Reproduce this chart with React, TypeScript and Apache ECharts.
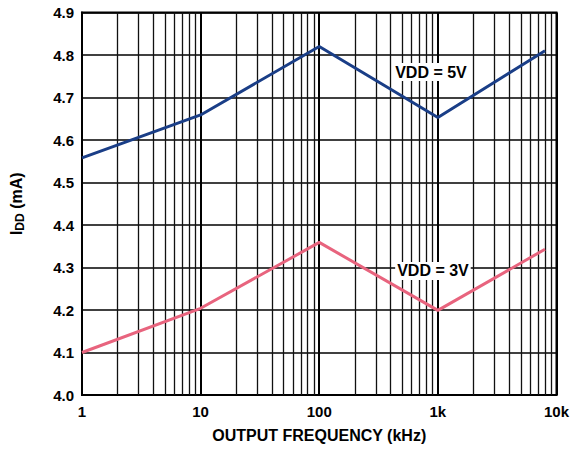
import React, { useEffect, useRef } from "react";
import * as echarts from "echarts";

const freqs = [1, 10, 100, 1000, 8000];
const vdd5 = [4.558, 4.659, 4.82, 4.653, 4.81];
const vdd3 = [4.1, 4.204, 4.359, 4.199, 4.343];
const minorFreqs = [
  2, 3, 4, 5, 6, 7, 8, 9,
  20, 30, 40, 50, 60, 70, 80, 90,
  200, 300, 400, 500, 600, 700, 800, 900,
  2000, 3000, 4000, 5000, 6000, 7000, 8000, 9000,
];
const label5 = { text: "VDD = 5V", x: 875, y: 4.76 };
const label3 = { text: "VDD = 3V", x: 909, y: 4.292 };

const FONT = "'Liberation Sans', Arial, sans-serif";

export default function App() {
  const ref = useRef<HTMLDivElement>(null);
  useEffect(() => {
    if (!ref.current) return;
    const chart = echarts.init(ref.current, undefined, { renderer: "svg" });
    const textStyle = { fontFamily: FONT, fontWeight: "bold" as const, fontSize: 15, color: "#000" };
    const bigText = { ...textStyle, fontSize: 16 };
    const mkLabel = (l: { text: string; x: number; y: number }) => ({
      symbol: "rect",
      symbolSize: 1,
      itemStyle: { color: "rgba(0,0,0,0)" },
      silent: true,
      data: [
        {
          coord: [l.x, l.y],
          label: {
            show: true,
            position: "inside",
            formatter: l.text,
            ...bigText,
            backgroundColor: "#fff",
            padding: [1, 2],
          },
        },
      ],
    });
    chart.setOption({
      animation: false,
      grid: {
        left: 78,
        right: 14,
        top: 12.5,
        bottom: 55,
        show: true,
        borderColor: "#000",
        borderWidth: 2,
        backgroundColor: "transparent",
      },
      xAxis: {
        type: "log",
        logBase: 10,
        min: 1,
        max: 10000,
        name: "OUTPUT FREQUENCY (kHz)",
        nameLocation: "middle",
        nameGap: 32,
        nameTextStyle: bigText,
        axisLine: { show: true, lineStyle: { color: "#000", width: 2 } },
        axisTick: { show: false },
        axisLabel: {
          ...textStyle,
          margin: 9,
          formatter: (v: number) => (v >= 1000 ? v / 1000 + "k" : String(v)),
        },
        splitLine: { show: true, lineStyle: { color: "#000", width: 2 } },
      },
      yAxis: {
        type: "value",
        min: 4.0,
        max: 4.9,
        interval: 0.1,
        name: "{a|I}{b|DD}{a| (mA)}",
        nameLocation: "middle",
        nameGap: 56,
        nameRotate: 90,
        nameTextStyle: {
          rich: {
            a: { ...textStyle, fontSize: 16, lineHeight: 20 },
            b: { ...textStyle, fontSize: 12, lineHeight: 12, verticalAlign: "bottom" },
          },
        },
        axisLine: { show: true, lineStyle: { color: "#000", width: 2 } },
        axisTick: { show: false },
        axisLabel: {
          ...textStyle,
          margin: 8,
          formatter: (v: number) => v.toFixed(1),
        },
        splitLine: { show: true, lineStyle: { color: "#000", width: 1.5 } },
      },
      series: [
        {
          type: "line",
          name: "grid",
          data: [],
          silent: true,
          markLine: {
            silent: true,
            symbol: "none",
            label: { show: false },
            lineStyle: { color: "#111", width: 1.3, type: "solid" },
            data: minorFreqs.map((f) => ({ xAxis: f })),
          },
        },
        {
          type: "line",
          name: "VDD = 5V",
          data: freqs.map((f, i) => [f, vdd5[i]]),
          showSymbol: false,
          lineStyle: { color: "#1a3e87", width: 3 },
          itemStyle: { color: "#1a3e87" },
          z: 5,
          markPoint: mkLabel(label5),
        },
        {
          type: "line",
          name: "VDD = 3V",
          data: freqs.map((f, i) => [f, vdd3[i]]),
          showSymbol: false,
          lineStyle: { color: "#e8647e", width: 3 },
          itemStyle: { color: "#e8647e" },
          z: 5,
          markPoint: mkLabel(label3),
        },
      ],
    });
    return () => chart.dispose();
  }, []);
  return (
    <div
      ref={ref}
      style={{ position: "absolute", left: 0, top: 0, width: 572, height: 450, background: "#fff" }}
    />
  );
}
